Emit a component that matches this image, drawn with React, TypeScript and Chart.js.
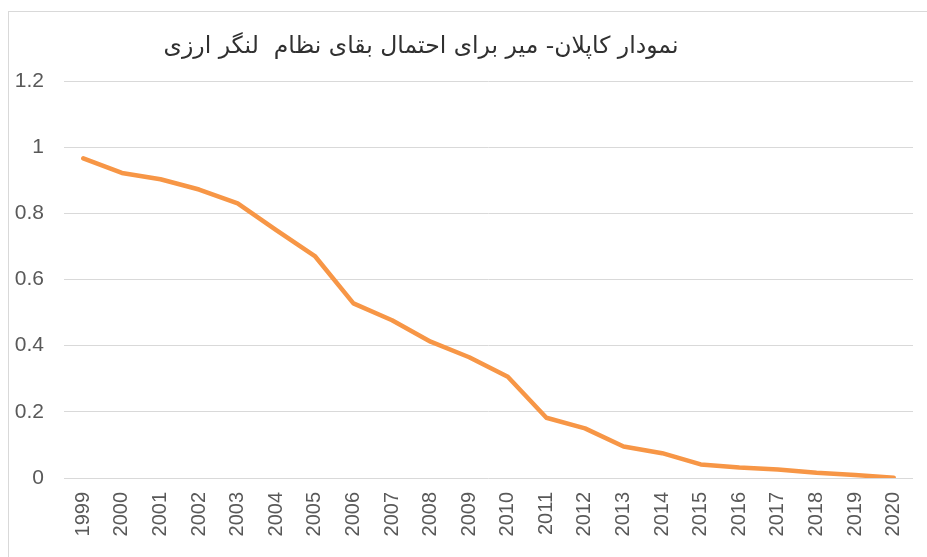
import React, { useEffect, useRef } from "react";
import { Chart, registerables } from "chart.js";

Chart.register(...registerables);

const TITLE = "نمودار کاپلان- میر برای احتمال بقای نظام  لنگر ارزی";

const years: string[] = [
  "1999", "2000", "2001", "2002", "2003", "2004", "2005", "2006", "2007", "2008", "2009",
  "2010", "2011", "2012", "2013", "2014", "2015", "2016", "2017", "2018", "2019", "2020",
];

const survival: number[] = [
  0.966, 0.922, 0.903, 0.872, 0.83, 0.749, 0.671, 0.528, 0.477, 0.412, 0.365,
  0.306, 0.182, 0.15, 0.095, 0.075, 0.041, 0.032, 0.026, 0.016, 0.009, 0.001,
];

const yTicks: number[] = [0, 0.2, 0.4, 0.6, 0.8, 1, 1.2];

export default function App() {
  const ref = useRef<HTMLCanvasElement | null>(null);

  useEffect(() => {
    if (!ref.current) return;
    const chart = new Chart(ref.current, {
      type: "line",
      data: {
        labels: years,
        datasets: [
          {
            data: survival,
            borderColor: "#F79646",
            backgroundColor: "#F79646",
            borderWidth: 4.5,
            pointRadius: 0,
            tension: 0,
            borderCapStyle: "round",
            borderJoinStyle: "round",
            fill: false,
          },
        ],
      },
      options: {
        animation: false,
        responsive: false,
        maintainAspectRatio: false,
        layout: { padding: { top: 69, right: 14, left: 0, bottom: 0 } },
        plugins: {
          legend: { display: false },
          tooltip: { enabled: false },
          title: { display: false },
        },
        scales: {
          x: {
            offset: true,
            grid: { display: false, drawTicks: false },
            border: { display: false },
            ticks: {
              minRotation: 90,
              maxRotation: 90,
              autoSkip: false,
              padding: 14,
              color: "#595959",
              font: { family: "'Liberation Sans', Arial, sans-serif", size: 20 },
            },
            afterFit: (scale: any) => {
              scale.height = 79;
              scale.paddingLeft = 0;
              scale.paddingRight = 0;
            },
          },
          y: {
            min: 0,
            max: 1.2,
            afterBuildTicks: (scale: any) => {
              scale.ticks = yTicks.map((v) => ({ value: v }));
            },
            grid: { color: "#D9D9D9", lineWidth: 1, drawTicks: false },
            border: { display: false },
            ticks: {
              padding: 20,
              color: "#595959",
              font: { family: "'Liberation Sans', Arial, sans-serif", size: 21 },
              callback: (v: any) => String(Math.round(Number(v) * 10) / 10),
            },
            afterFit: (scale: any) => {
              scale.width = 55;
              scale.paddingTop = 0;
              scale.paddingBottom = 0;
            },
          },
        },
      },
    });
    return () => chart.destroy();
  }, []);

  return (
    <div
      style={{
        position: "fixed",
        left: 8,
        top: 11,
        width: 940,
        height: 570,
        border: "1px solid #D9D9D9",
        background: "#fff",
        overflow: "hidden",
      }}
    >
      <canvas ref={ref} width={918} height={545} style={{ display: "block", width: 918, height: 545 }} />
      <div
        dir="rtl"
        style={{
          position: "absolute",
          left: 62,
          top: 16,
          width: 700,
          height: 34,
          lineHeight: "34px",
          textAlign: "center",
          fontFamily: "'DejaVu Sans', sans-serif",
          fontSize: 23.5,
          color: "#303030",
          whiteSpace: "pre",
        }}
      >
        {TITLE}
      </div>
    </div>
  );
}
